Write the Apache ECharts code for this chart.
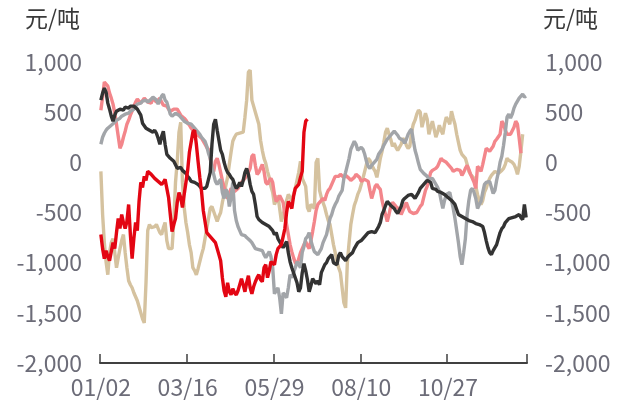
<!DOCTYPE html>
<html>
<head>
<meta charset="utf-8">
<script src="https://cdn.jsdelivr.net/npm/echarts/dist/echarts.min.js"></script>
<style>
html,body{margin:0;padding:0;background:#fff;}
#chart{width:625px;height:408px;}
</style>
</head>
<body>
<div id="chart"></div>
<script>
// Trading-day categories (weekdays minus market holidays)
const HOLIDAYS = ['01/24','01/25','01/26','04/05','05/01','06/22','06/23','08/01','09/29','10/02','10/03','10/04','10/05','10/06'];
const categories = [];
for (let d = new Date(Date.UTC(2023, 0, 2)); d.getUTCFullYear() === 2023; d.setUTCDate(d.getUTCDate() + 1)) {
  const wd = d.getUTCDay();
  if (wd === 0 || wd === 6) continue;
  const s = String(d.getUTCMonth() + 1).padStart(2, '0') + '/' + String(d.getUTCDate()).padStart(2, '0');
  if (HOLIDAYS.includes(s)) continue;
  categories.push(s);
}

const unitLabel = '元/吨';
const yMin = -2000, yMax = 1000, yStep = 500;

const seriesTan = [
-90,-520,-800,-990,-1120,-900,-800,-760,-900,-1050,
-950,-860,-780,-720,-900,-1050,-1180,-1220,-1250,-1300,
-1340,-1380,-1440,-1500,-1560,-1600,-1200,-680,-620,-650,
-660,-640,-620,-660,-700,-720,-650,-600,-780,-860,
-850,-860,-600,-200,10,300,400,-200,-450,-600,
-700,-820,-900,-1050,-1080,-1120,-1060,-990,-920,-860,
-760,-660,-560,-460,-440,-450,-540,-590,-540,-500,
-400,-320,-230,-150,-20,100,210,250,280,290,
290,280,300,450,620,900,920,620,560,500,
440,380,220,120,40,-10,-90,-150,-240,-300,
-420,-380,-330,-460,-590,-520,-460,-380,-320,-350,
-380,-320,-260,-270,-100,10,-160,-200,-240,-450,
-490,-420,-440,-460,0,40,-280,-350,-400,-450,
-520,-580,-620,-720,-820,-900,-990,-1050,-1100,-1250,
-1400,-1450,-1000,-800,-620,-520,-430,-380,-320,-280,
-220,-160,-90,-20,40,20,-20,-60,-90,-150,
-60,40,110,200,300,340,280,230,160,190,
150,120,110,180,240,220,170,140,160,300,
380,420,480,520,500,350,420,490,430,280,
350,410,330,250,300,370,320,280,380,450,
420,380,510,440,380,280,200,120,80,60,
40,-20,-90,-120,-140,-160,-240,-320,-380,-420,
-380,-300,-260,-200,-160,-130,-110,-90,-100,-110,
-100,-80,-60,-20,40,20,20,0,-20,-60,
-120,-40,110,280
];

const seriesPink = [
520,650,800,810,760,690,640,580,490,380,
260,140,180,250,310,380,420,470,510,560,
600,630,610,590,600,640,620,600,610,590,
640,620,600,610,640,600,570,580,560,530,
510,510,530,540,530,500,470,460,440,420,
390,370,340,320,300,290,270,260,240,210,
180,150,130,40,-60,-90,10,40,-20,-100,
-180,-250,-320,-360,-310,-260,-270,-290,-300,-260,
-230,-200,-190,-160,-130,-100,-60,60,80,-30,
-120,-100,-60,-20,-90,-200,-220,-180,-160,-200,
-320,-390,-370,-330,-320,-400,-520,-620,-720,-820,
-890,-950,-1000,-1020,-960,-900,-860,-820,-790,-830,
-860,-780,-690,-590,-480,-420,-410,-380,-360,-380,
-320,-280,-260,-220,-180,-140,-130,-140,-120,-130,
-150,-130,-130,-160,-180,-190,-150,-120,-110,-150,
-190,-200,-170,-180,-190,-280,-360,-300,-240,-220,
-250,-270,-380,-460,-520,-590,-520,-440,-400,-420,
-440,-430,-470,-520,-510,-440,-400,-450,-490,-500,
-510,-520,-500,-470,-440,-420,-350,-280,-240,-170,
-100,-80,-70,-60,-40,0,40,20,10,0,
-20,-20,-60,-90,-90,-70,-60,-80,-130,-100,
-60,-30,-70,-120,-160,-200,-260,-40,-60,-90,
-20,60,140,130,110,110,160,210,230,240,
280,410,380,320,280,270,280,290,350,410,
380,240,90
];

const seriesGray = [
180,250,290,320,340,350,370,380,400,420,
410,440,460,470,480,470,490,510,500,530,
560,580,570,590,610,600,620,600,610,630,
650,660,620,580,620,660,680,620,600,540,
480,460,470,490,490,470,450,430,410,400,
390,380,380,360,340,320,310,280,250,230,
210,160,90,40,-50,-120,-190,-220,-190,-170,
-300,-360,-270,-300,-440,-350,-200,-480,-580,-640,
-680,-720,-710,-730,-750,-760,-780,-800,-830,-860,
-850,-870,-860,-880,-920,-950,-960,-890,-940,-1050,
-1310,-1280,-1250,-1350,-1510,-1300,-1320,-1350,-1250,-1120,
-1150,-1160,-1050,-990,-1020,-1050,-900,-840,-760,-740,
-700,-780,-840,-890,-900,-920,-890,-860,-800,-760,
-720,-640,-560,-520,-460,-420,-390,-340,-310,-280,
-160,-100,-30,40,130,170,210,180,120,130,
150,130,80,10,-40,-60,-30,-10,-20,30,
80,90,130,170,200,230,240,270,290,310,
300,270,240,250,220,190,230,280,310,330,
220,120,60,-10,-70,-90,-110,-120,-140,-170,
-180,-160,-190,-220,-250,-290,-380,-460,-380,-320,
-310,-300,-380,-460,-560,-680,-800,-940,-1020,-900,
-760,-520,-380,-280,-260,-300,-360,-460,-420,-390,
-300,-220,-200,-210,-190,-250,-310,-280,-180,-100,
0,60,170,300,450,480,440,480,540,580,
610,640,660,680,650,660
];

const seriesBlack = [
620,690,740,700,590,530,460,410,470,510,
500,530,540,520,550,560,540,560,570,560,
550,530,540,470,390,380,340,350,320,310,
300,320,290,240,180,260,310,180,80,60,
40,30,10,0,-60,-70,-50,-80,-90,-110,
-140,-160,-190,-180,-200,-210,-220,-240,-260,-250,
-260,-240,-250,-100,180,380,430,320,220,120,
80,0,-60,-100,-120,-150,-170,-220,-260,-240,
-200,-240,-180,-100,-60,-120,-220,-290,-320,-420,
-540,-570,-560,-600,-590,-620,-610,-640,-660,-680,
-720,-700,-760,-790,-820,-850,-860,-790,-900,-990,
-1050,-1100,-1150,-1200,-1290,-1250,-1100,-1010,-1080,-1170,
-1290,-1230,-1160,-1150,-1210,-1180,-1220,-1100,-1060,-1020,
-1000,-960,-940,-920,-1000,-990,-1020,-930,-900,-940,
-960,-980,-950,-930,-920,-900,-860,-830,-800,-790,
-780,-760,-740,-720,-700,-690,-690,-680,-700,-690,
-640,-600,-520,-480,-430,-390,-410,-430,-420,-460,
-490,-510,-520,-440,-380,-360,-350,-330,-320,-320,
-340,-360,-350,-300,-260,-240,-220,-200,-180,-170,
-200,-260,-250,-270,-290,-280,-300,-310,-320,-330,
-350,-360,-380,-390,-420,-470,-520,-520,-540,-550,
-560,-570,-580,-580,-590,-600,-610,-610,-620,-620,
-640,-700,-780,-850,-900,-920,-880,-850,-820,-760,
-700,-660,-640,-600,-580,-560,-570,-550,-560,-540,
-530,-520,-550,-570,-420,-550
];

const seriesRed = [
-720,-860,-960,-880,-940,-980,-990,-800,-860,-700,
-560,-660,-520,-600,-660,-590,-420,-720,-960,-760,
-600,-680,-390,-200,-250,-140,-180,-90,-100,-120,
-130,-160,-170,-190,-200,-220,-200,-170,-160,-350,
-520,-690,-620,-560,-400,-300,-350,-450,-320,-200,
-80,100,200,300,320,180,10,-150,-290,-480,
-590,-700,-720,-730,-760,-770,-800,-860,-920,-980,
-1150,-1280,-1340,-1200,-1290,-1320,-1260,-1300,-1320,-1280,
-1290,-1160,-1220,-1290,-1200,-1130,-1250,-1310,-1240,-1190,
-1150,-1120,-1170,-1190,-1050,-1020,-1150,-1080,-990,-1000,
-1020,-920,-860,-840,-820,-740,-660,-500,-390,-420,
-460,-340,-260,-240,-220,-150,-90,300,410,430
];

const FONT = '"Noto Sans CJK SC", "Noto Sans", sans-serif';
const LABEL_COLOR = '#6c6c78';
const fmt = v => v.toLocaleString('en-US');

function yAxisCfg(pos) {
  const left = pos === 'left';
  return {
    type: 'value', position: pos,
    min: yMin, max: yMax, interval: yStep,
    name: unitLabel, nameLocation: 'end', nameGap: 32,
    nameTextStyle: {
      color: '#3a3a3a', fontSize: 23, fontFamily: FONT,
      align: left ? 'right' : 'left',
      padding: left ? [0, 20, 0, 0] : [0, 0, 0, 16]
    },
    axisLine: {show: false}, axisTick: {show: false}, splitLine: {show: false},
    axisLabel: {color: LABEL_COLOR, fontSize: 23, fontFamily: FONT, margin: 18, formatter: fmt}
  };
}

function lineSeries(name, data, color, z) {
  return {
    name, type: 'line', data, showSymbol: false, symbol: 'none',
    lineStyle: {width: 3.4, color}, itemStyle: {color}, z, animation: false
  };
}

const chart = echarts.init(document.getElementById('chart'), null, {renderer: 'canvas'});
chart.setOption({
  animation: false,
  backgroundColor: '#ffffff',
  grid: {left: 100, right: 98, top: 62, bottom: 45, containLabel: false},
  xAxis: {
    type: 'category', data: categories, boundaryGap: true,
    axisLine: {show: true, onZero: false, lineStyle: {color: '#404040', width: 2}},
    axisTick: {show: true, inside: true, length: 9, interval: 49, lineStyle: {color: '#404040', width: 1.5}},
    axisLabel: {show: true, interval: 49, color: LABEL_COLOR, fontSize: 23, fontFamily: FONT, margin: 13}
  },
  yAxis: [yAxisCfg('left'), yAxisCfg('right')],
  series: [
    lineSeries('tan', seriesTan, '#d5c29f', 1),
    lineSeries('pink', seriesPink, '#f3868b', 2),
    lineSeries('gray', seriesGray, '#a2a5a9', 3),
    lineSeries('black', seriesBlack, '#333333', 4),
    lineSeries('red', seriesRed, '#e30613', 5)
  ]
});
</script>
</body>
</html>
